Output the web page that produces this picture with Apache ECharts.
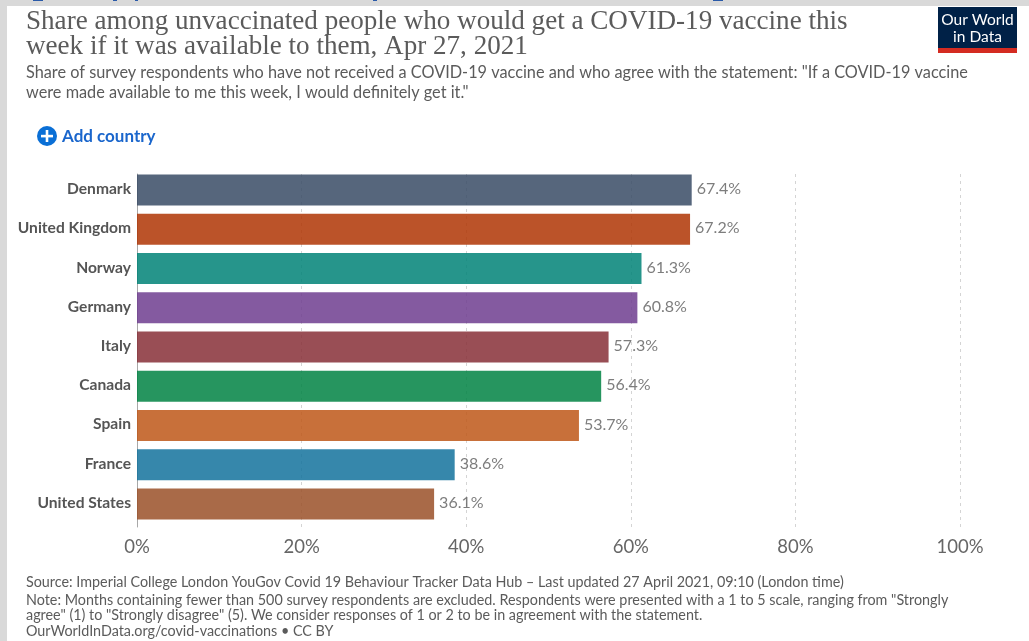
<!DOCTYPE html>
<html>
<head>
<meta charset="utf-8">
<style>
  html, body { margin: 0; padding: 0; background: #d9d9d9; }
  #chart { width: 1029px; height: 641px; }
</style>
<script src="https://cdn.jsdelivr.net/npm/echarts@6/dist/echarts.min.js"></script>
</head>
<body>
<div id="chart"></div>
<script>
const countries = ['Denmark', 'United Kingdom', 'Norway', 'Germany', 'Italy', 'Canada', 'Spain', 'France', 'United States'];
const shares = [67.4, 67.2, 61.3, 60.8, 57.3, 56.4, 53.7, 38.6, 36.1];
const barColors = ['#384b65', '#af3503', '#008377', '#6f3d8f', '#872f37', '#008343', '#be5717', '#13729c', '#9a5028'];
const tickValues = [0, 20, 40, 60, 80, 100];

const titleLines = [
  'Share among unvaccinated people who would get a COVID-19 vaccine this',
  'week if it was available to them, Apr 27, 2021'
];
const subtitleLines = [
  'Share of survey respondents who have not received a COVID-19 vaccine and who agree with the statement: "If a COVID-19 vaccine',
  'were made available to me this week, I would definitely get it."'
];
const footerLines = [
  'Source: Imperial College London YouGov Covid 19 Behaviour Tracker Data Hub \u2013 Last updated 27 April 2021, 09:10 (London time)',
  'Note: Months containing fewer than 500 survey respondents are excluded. Respondents were presented with a 1 to 5 scale, ranging from "Strongly',
  'agree" (1) to "Strongly disagree" (5). We consider responses of 1 or 2 to be in agreement with the statement.',
  'OurWorldInData.org/covid-vaccinations \u2022 CC BY'
];

const SERIF = '"Liberation Serif"';
const SANS = 'Lato';

const textLine = (text, x, y, font, fill, extra) => ({
  type: 'text', x, y, silent: true,
  style: Object.assign({ text, font: font, fill, textVerticalAlign: 'middle' }, extra || {})
});

// Descenders of the page's link text, cut off by the top edge of the grey surround
const linkSpecks = [[33, 10], [113, 4], [135, 3], [373, 4], [713, 10]].map(([x, width]) => ({
  type: 'rect', silent: true, shape: { x, y: 0, width, height: 1 }, style: { fill: '#2a5aa8' }
}));

const chart = echarts.init(document.getElementById('chart'), null, { renderer: 'canvas' });
chart.setOption({
  animation: false,
  backgroundColor: '#d9d9d9',
  // Grid 0 holds the bars; grid 1 carries the scale, whose rules run a little lower than the bars
  grid: [
    { left: 137, right: 69, top: 170.5, bottom: 117.5 },
    { left: 137, right: 69, top: 174, bottom: 114 }
  ],
  xAxis: [
    {
      gridIndex: 0, type: 'value', min: 0, max: 100, interval: 20,
      axisLine: { show: false }, axisTick: { show: false },
      splitLine: { show: false }, axisLabel: { show: false }
    },
    {
      gridIndex: 1, type: 'value', min: 0, max: 100, interval: 20,
      axisLine: { show: false }, axisTick: { show: false },
      splitLine: { show: true, lineStyle: { color: '#d4d4d4', type: [3, 4], width: 1 } },
      axisLabel: {
        color: '#666666', fontFamily: SANS, fontSize: 18.5, margin: 11,
        formatter: v => tickValues.includes(v) ? v + '%' : ''
      }
    }
  ],
  yAxis: [
    {
      gridIndex: 0, type: 'category', inverse: true, data: countries,
      axisLine: { show: false }, axisTick: { show: false },
      axisLabel: {
        color: '#555555', fontFamily: SANS, fontWeight: 'bold', fontSize: 15.6, margin: 6,
        verticalAlign: 'bottom', lineHeight: 2
      }
    },
    {
      gridIndex: 1, type: 'value', min: 0, max: 1,
      axisLine: { show: true, lineStyle: { color: '#a8a8a8', width: 1 } },
      axisTick: { show: false }, axisLabel: { show: false }, splitLine: { show: false }
    }
  ],
  series: [{
    type: 'bar', xAxisIndex: 0, yAxisIndex: 0, barWidth: 31,
    data: shares.map((v, i) => ({ value: v, itemStyle: { color: barColors[i], opacity: 0.85 } })),
    label: {
      show: true, position: 'right', distance: 5, offset: [0, -1],
      color: '#666666', fontFamily: SANS, fontSize: 16,
      formatter: p => p.value.toFixed(1) + '%'
    }
  }],
  graphic: [
    // White page panel on the grey surround
    { type: 'rect', z: -10, silent: true, shape: { x: 7, y: 6, width: 1022, height: 635 }, style: { fill: '#ffffff' } },
    ...linkSpecks,
    textLine(titleLines[0], 26, 22, '27.1px ' + SERIF, '#5b5b5b'),
    textLine(titleLines[1], 26, 47, '27.1px ' + SERIF, '#5b5b5b'),
    textLine(subtitleLines[0], 26, 73, '16.3px ' + SANS, '#5b5b5b'),
    textLine(subtitleLines[1], 26, 93, '16.3px ' + SANS, '#5b5b5b'),
    // "Add country" button
    { type: 'circle', silent: true, shape: { cx: 47, cy: 136, r: 10 }, style: { fill: '#0a6fd6' } },
    { type: 'rect', silent: true, shape: { x: 41, y: 134.8, width: 12, height: 2.6 }, style: { fill: '#ffffff' } },
    { type: 'rect', silent: true, shape: { x: 45.7, y: 130, width: 2.6, height: 12 }, style: { fill: '#ffffff' } },
    textLine('Add country', 62, 137, 'bold 17px ' + SANS, '#1a66cc'),
    // Logo block
    { type: 'rect', silent: true, shape: { x: 938, y: 7, width: 79, height: 46 }, style: { fill: '#002147' } },
    { type: 'rect', silent: true, shape: { x: 938, y: 48, width: 79, height: 5 }, style: { fill: '#d42b21' } },
    textLine('Our World', 977.5, 20, '15.5px ' + SANS, '#ffffff', { textAlign: 'center' }),
    textLine('in Data', 977.5, 37, '15.5px ' + SANS, '#ffffff', { textAlign: 'center' }),
    // Source and notes
    textLine(footerLines[0], 26, 582.5, '14.35px ' + SANS, '#5b5b5b'),
    textLine(footerLines[1], 26, 600, '14.35px ' + SANS, '#5b5b5b'),
    textLine(footerLines[2], 26, 615.5, '14.35px ' + SANS, '#5b5b5b'),
    textLine(footerLines[3], 26, 631.5, '14.35px ' + SANS, '#5b5b5b')
  ]
});
</script>
</body>
</html>
